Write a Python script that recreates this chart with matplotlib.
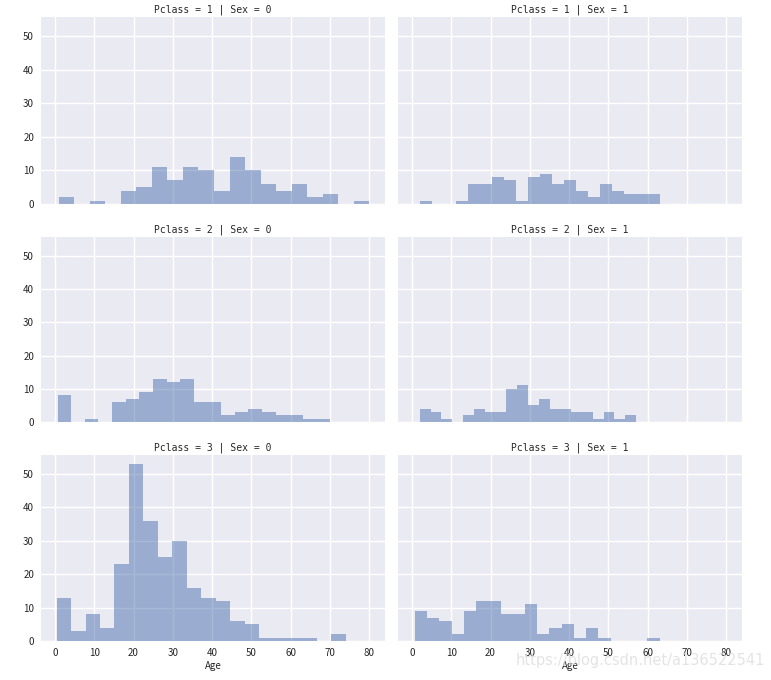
import numpy as np
import matplotlib
matplotlib.use("Agg")
import matplotlib.pyplot as plt

# ---- data ----
pclasses = [1, 2, 3]
sexes = [0, 1]
xlabel = "Age"
x_ticks = [0, 10, 20, 30, 40, 50, 60, 70, 80]
y_ticks = [0, 10, 20, 30, 40, 50]

# age range (min, max) of each facet -> 20 equal bins
range_1_0 = (0.92, 80.0)
range_1_1 = (2.0, 63.0)
range_2_0 = (0.67, 70.0)
range_2_1 = (2.0, 57.0)
range_3_0 = (0.42, 74.0)
range_3_1 = (0.75, 63.0)

counts_1_0 = [2, 0, 1, 0, 4, 5, 11, 7, 11, 10, 4, 14, 10, 6, 4, 6, 2, 3, 0, 1]
counts_1_1 = [1, 0, 0, 1, 6, 6, 8, 7, 1, 8, 9, 6, 7, 4, 2, 6, 4, 3, 3, 3]
counts_2_0 = [8, 0, 1, 0, 6, 7, 9, 13, 12, 13, 6, 6, 2, 3, 4, 3, 2, 2, 1, 1]
counts_2_1 = [4, 3, 1, 0, 2, 4, 3, 3, 10, 11, 5, 7, 4, 4, 3, 3, 1, 3, 1, 2]
counts_3_0 = [13, 3, 8, 4, 23, 53, 36, 25, 30, 16, 13, 12, 6, 5, 1, 1, 1, 1, 0, 2]
counts_3_1 = [9, 7, 6, 2, 9, 12, 12, 8, 8, 11, 2, 4, 5, 1, 4, 1, 0, 0, 0, 1]

ranges = {(1, 0): range_1_0, (1, 1): range_1_1, (2, 0): range_2_0,
          (2, 1): range_2_1, (3, 0): range_3_0, (3, 1): range_3_1}
counts = {(1, 0): counts_1_0, (1, 1): counts_1_1, (2, 0): counts_2_0,
          (2, 1): counts_2_1, (3, 0): counts_3_0, (3, 1): counts_3_1}

plt.rcParams['font.family'] = ['Noto Sans CJK SC', 'DejaVu Sans']

W, H = 771, 680
fig = plt.figure(figsize=(W / 100, H / 100), dpi=100)

col_left = [41, 398]
ax_w = 344
row_top = [17, 237, 455]
row_bot = [204, 422, 641]

bar_color = '#4C72B0'
bg = '#EAEAF2'
tick_color = '#262626'

all_axes = []
for r, pc in enumerate(pclasses):
    for c, sx in enumerate(sexes):
        l = col_left[c] / W
        b = (H - row_bot[r]) / H
        h = (row_bot[r] - row_top[r]) / H
        ax = fig.add_axes([l, b, ax_w / W, h])
        ax.set_facecolor(bg)
        for s in ax.spines.values():
            s.set_visible(False)
        ax.grid(True, color='white', linewidth=1.0)
        ax.set_axisbelow(True)
        lo, hi = ranges[(pc, sx)]
        edges = np.linspace(lo, hi, 21)
        ax.hist(edges[:-1], bins=edges, weights=counts[(pc, sx)],
                color=bar_color, alpha=0.5, linewidth=0)
        ax.set_xlim(-3.56, 83.98)
        ax.set_ylim(0, 55.65)
        ax.set_xticks(x_ticks)
        ax.set_yticks(y_ticks)
        ax.tick_params(length=0, labelsize=7, colors=tick_color, pad=5)
        if c != 0:
            ax.tick_params(labelleft=False)
        if r != 2:
            ax.tick_params(labelbottom=False)
        else:
            ax.set_xlabel(xlabel, fontsize=7, color=tick_color, labelpad=2)
        ax.set_title(f"Pclass = {pc} | Sex = {sx}", fontsize=7,
                     family=['DejaVu Sans Mono'],
                     color=tick_color, pad=3)
        all_axes.append(ax)

fig.text(0.992, 0.029, "https://blog.csdn.net/a136522541", ha='right',
         va='center', fontsize=10.5, color='#dddddd', alpha=0.8,
         family=['DejaVu Sans'])

fig.savefig("out.png", dpi=100)
